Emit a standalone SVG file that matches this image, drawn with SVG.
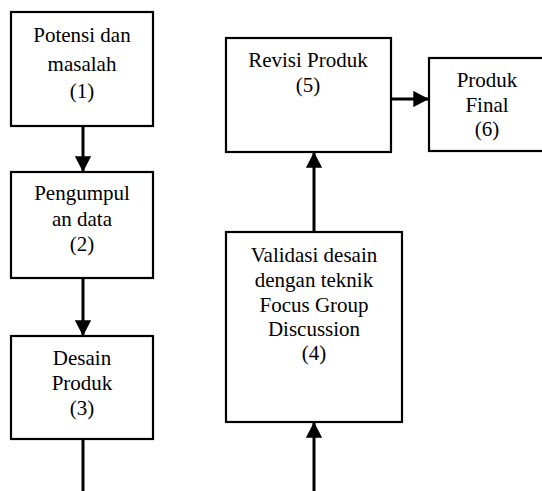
<svg xmlns="http://www.w3.org/2000/svg" width="542" height="491" viewBox="0 0 542 491">
<style>
.box{fill:#fff;stroke:#000;stroke-width:2.2}
.t{font-family:"Liberation Serif","Times New Roman",serif;font-size:21px;fill:#000;text-anchor:middle}
.c{stroke:#000;stroke-width:3;fill:none}
</style>
<defs>
<marker id="ah" markerWidth="5.2" markerHeight="5.4" refX="4.9" refY="2.7" orient="auto" markerUnits="strokeWidth">
<path d="M0,0 L5.2,2.7 L0,5.4 Z" fill="#000"/>
</marker>
</defs>
<rect width="542" height="491" fill="#fff"/>
<g id="n1"><rect class="box" x="11" y="12" width="142" height="114"/>
<text class="t" x="82" y="42">Potensi dan</text><text class="t" x="82" y="71">masalah</text><text class="t" x="82" y="98">(1)</text></g>
<g id="n2"><rect class="box" x="11" y="172" width="142" height="106"/>
<text class="t" x="82" y="200">Pengumpul</text><text class="t" x="82" y="226">an data</text><text class="t" x="82" y="251">(2)</text></g>
<g id="n3"><rect class="box" x="11" y="336" width="142" height="103"/>
<text class="t" x="82" y="365">Desain</text><text class="t" x="82" y="390">Produk</text><text class="t" x="82" y="415">(3)</text></g>
<g id="n4"><rect class="box" x="226" y="232" width="176" height="190"/>
<text class="t" x="314" y="262">Validasi desain</text><text class="t" x="314" y="287">dengan teknik</text><text class="t" x="314" y="312">Focus Group</text><text class="t" x="314" y="336">Discussion</text><text class="t" x="314" y="360">(4)</text></g>
<g id="n5"><rect class="box" x="226" y="38" width="165" height="114"/>
<text class="t" x="308" y="67">Revisi Produk</text><text class="t" x="308" y="92">(5)</text></g>
<g id="n6"><rect class="box" x="429" y="58" width="118" height="93"/>
<text class="t" x="487" y="87">Produk</text><text class="t" x="487" y="112">Final</text><text class="t" x="487" y="136">(6)</text></g>
<g id="connectors">
<line class="c" x1="83" y1="127" x2="83" y2="171" marker-end="url(#ah)"/>
<line class="c" x1="83" y1="279" x2="83" y2="335" marker-end="url(#ah)"/>
<line class="c" x1="83" y1="440" x2="83" y2="491"/>
<line class="c" x1="314" y1="491" x2="314" y2="423" marker-end="url(#ah)"/>
<line class="c" x1="314" y1="231" x2="314" y2="153" marker-end="url(#ah)"/>
<line class="c" x1="392" y1="99" x2="428" y2="99" marker-end="url(#ah)"/>
</g>
</svg>
